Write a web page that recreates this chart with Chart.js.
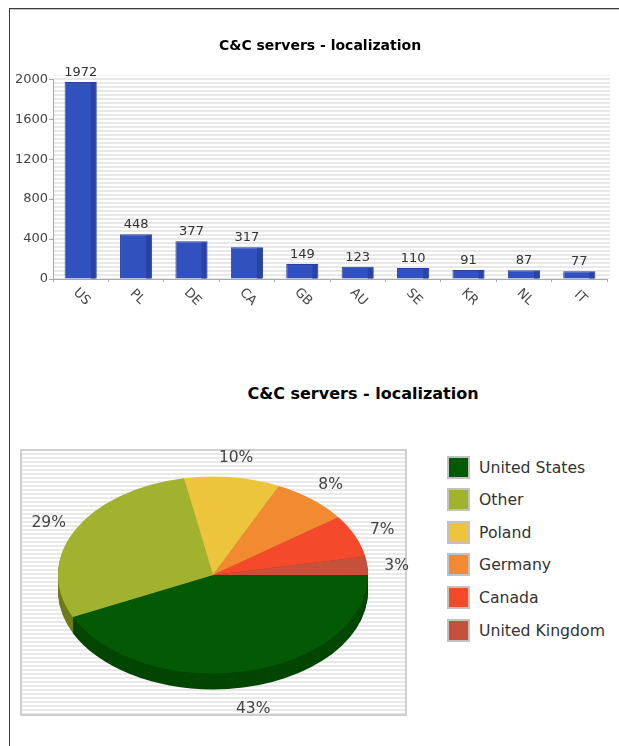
<!DOCTYPE html>
<html>
<head>
<meta charset="utf-8">
<script src="https://cdn.jsdelivr.net/npm/chart.js@4.4.1/dist/chart.umd.min.js"></script>
<style>
html, body { margin:0; padding:0; width:619px; height:746px; overflow:hidden; background:#fff; font-family:'DejaVu Sans', sans-serif; }
#frame { position:absolute; left:9px; top:8px; width:640px; height:760px; border-top:1px solid #3c3c3c; border-left:1px solid #3c3c3c; box-shadow: inset 0 1px 0 #c8c8c8; }
#barC { position:absolute; left:10px; top:20px; }
#pieBox { position:absolute; left:20px; top:449px; width:383px; height:263px; border:2px solid #cfcfcf;
  background: repeating-linear-gradient(to bottom, #fff 0 2px, #e9e9e9 2px 4px); }
#pieC { position:absolute; left:20px; top:420px; }
#pieTitle { position:absolute; left:163px; width:400px; top:384px; line-height:20px; text-align:center; font-weight:bold; font-size:16px; color:#000; }
.item { position:absolute; left:447px; height:23px; }
.sw { position:absolute; left:0; top:0; width:19px; height:19px; border:2px solid #c2c2c2; }
.lt { position:absolute; left:32px; top:0; line-height:23px; font-size:15.7px; color:#333; white-space:nowrap; }
</style>
</head>
<body>
<div id="frame"></div>
<canvas id="barC" width="620" height="300"></canvas>
<div id="pieTitle">C&amp;C servers - localization</div>
<div id="pieBox"></div>
<canvas id="pieC" width="400" height="326"></canvas>
<div id="legend"></div>
<script>
// bar chart data
const barLabels = ['US', 'PL', 'DE', 'CA', 'GB', 'AU', 'SE', 'KR', 'NL', 'IT'];
const barValues = [1972, 448, 377, 317, 149, 123, 110, 91, 87, 77];
const yTicks = [0, 400, 800, 1200, 1600, 2000];

// pie chart data
const pieLabels = ['United States', 'Other', 'Poland', 'Germany', 'Canada', 'United Kingdom'];
const piePercent = [43, 29, 10, 8, 7, 3];
const pieColors = ['#045a04', '#a1b22e', '#ecc53c', '#f18a30', '#f44a2b', '#c4523b'];
const pieSideColors = ['#024602', '#6f7c1c', '#b09028', '#b06020', '#b03018', '#8c3828'];

Chart.defaults.font.family = "'DejaVu Sans', sans-serif";

const stripes = document.createElement('canvas');
stripes.width = 1;
stripes.height = 4;
const sg = stripes.getContext('2d');
sg.fillStyle = '#ffffff';
sg.fillRect(0, 0, 1, 4);
sg.fillStyle = '#e8e8e8';
sg.fillRect(0, 2, 1, 2);

const plotBack = {
    id: 'plotBack',
    beforeDraw(chart) {
        const a = chart.chartArea, ctx = chart.ctx;
        ctx.save();
        ctx.fillStyle = ctx.createPattern(stripes, 'repeat');
        ctx.fillRect(a.left, a.top - 4, a.right - a.left + 3, a.bottom - a.top + 4);
        ctx.restore();
    }
};

const barDecor = {
    id: 'barDecor',
    afterDatasetsDraw(chart) {
        const ctx = chart.ctx;
        ctx.save();
        chart.getDatasetMeta(0).data.forEach((el, i) => {
            const p = el.getProps(['x', 'y', 'base', 'width'], true);
            ctx.fillStyle = '#2a43a2';
            ctx.fillRect(p.x + p.width / 2 - 6, p.y + 1, 5, p.base - p.y - 1);
            ctx.fillStyle = '#333';
            ctx.font = "13px 'DejaVu Sans'";
            ctx.textAlign = 'center';
            ctx.textBaseline = 'bottom';
            ctx.fillText(barValues[i], p.x, p.y - 3);
        });
        ctx.restore();
    },
    afterDraw(chart) {
        const ctx = chart.ctx, xs = chart.scales.x;
        ctx.save();
        ctx.fillStyle = '#444';
        ctx.font = "13px 'DejaVu Sans'";
        ctx.textAlign = 'center';
        ctx.textBaseline = 'middle';
        barLabels.forEach((lab, i) => {
            ctx.save();
            ctx.translate(xs.getPixelForValue(i) + 1, xs.top + 18);
            ctx.rotate(Math.PI / 4);
            ctx.fillText(lab, 0, 0);
            ctx.restore();
        });
        ctx.restore();
    }
};

new Chart(document.getElementById('barC'), {
    type: 'bar',
    data: {
        labels: barLabels,
        datasets: [{
            data: barValues,
            backgroundColor: '#3151bf',
            borderColor: '#27409e',
            borderWidth: 1,
            barPercentage: 0.58,
            categoryPercentage: 1
        }]
    },
    options: {
        responsive: false,
        animation: false,
        events: [],
        plugins: {
            legend: { display: false },
            tooltip: { enabled: false },
            title: {
                display: true,
                text: 'C&C servers - localization',
                color: '#000',
                font: { size: 14, weight: 'bold' },
                padding: { top: 18, bottom: 24.5 }
            }
        },
        scales: {
            x: {
                offset: true,
                ticks: { display: false },
                grid: { drawOnChartArea: false, offset: true, tickLength: 3, color: '#a8a8a8' },
                border: { color: '#a8a8a8' },
                afterFit: s => { s.height = 41; }
            },
            y: {
                min: 0,
                max: 2000,
                afterBuildTicks: s => { s.ticks = yTicks.map(v => ({ value: v })); },
                ticks: { padding: 1, color: '#444', font: { size: 13 }, callback: v => String(v) },
                grid: { drawOnChartArea: false, tickLength: 4, color: '#a8a8a8' },
                border: { color: '#a8a8a8' },
                afterFit: s => { s.width = 43; }
            },
            // empty right-hand spacer so the plot ends before the canvas edge
            // while the title stays centred on the whole width
            spacer: {
                position: 'right',
                ticks: { display: false },
                grid: { display: false },
                border: { display: false },
                afterFit: s => { s.width = 23; }
            }
        }
    },
    plugins: [plotBack, barDecor]
});

// tilted pie with a side wall
const TILT = 0.635, DEPTH = 16;
const tilt = {
    id: 'tilt',
    beforeDatasetsDraw(chart) {
        const ctx = chart.ctx, arcs = chart.getDatasetMeta(0).data;
        const cx = arcs[0].x, cy = arcs[0].y;
        for (let d = DEPTH; d > 0; d--) {
            arcs.forEach((a, i) => {
                ctx.save();
                ctx.translate(cx, cy + d);
                ctx.scale(1, TILT);
                ctx.beginPath();
                ctx.moveTo(0, 0);
                ctx.arc(0, 0, a.outerRadius, a.startAngle, a.endAngle);
                ctx.closePath();
                ctx.fillStyle = pieSideColors[i];
                ctx.fill();
                ctx.restore();
            });
        }
        ctx.save();
        ctx.translate(cx, cy);
        ctx.scale(1, TILT);
        ctx.translate(-cx, -cy);
    },
    afterDatasetsDraw(chart) {
        const ctx = chart.ctx, arcs = chart.getDatasetMeta(0).data;
        ctx.restore();
        const cx = arcs[0].x, cy = arcs[0].y;
        ctx.save();
        ctx.fillStyle = '#444';
        ctx.font = "15.5px 'DejaVu Sans'";
        ctx.textAlign = 'center';
        ctx.textBaseline = 'middle';
        arcs.forEach((a, i) => {
            const m = (a.startAngle + a.endAngle) / 2;
            const s = Math.sin(m);
            const lx = cx + Math.cos(m) * a.outerRadius * 1.19;
            const ly = cy + s * a.outerRadius * TILT * 1.215 + (s > 0 ? s * DEPTH : 0) + 2;
            ctx.fillText(piePercent[i] + '%', lx, ly);
        });
        ctx.restore();
    }
};

new Chart(document.getElementById('pieC'), {
    type: 'pie',
    data: {
        labels: pieLabels,
        datasets: [{ data: piePercent, backgroundColor: pieColors, borderWidth: 0, hoverOffset: 0 }]
    },
    options: {
        responsive: false,
        animation: false,
        events: [],
        rotation: 90,
        layout: { padding: { left: 38, right: 52, top: 0, bottom: 16 } },
        plugins: { legend: { display: false }, tooltip: { enabled: false } }
    },
    plugins: [tilt]
});

// legend
const legend = document.getElementById('legend');
pieLabels.forEach((name, i) => {
    const it = document.createElement('div');
    it.className = 'item';
    it.style.top = (455.5 + i * 32.6) + 'px';
    const sw = document.createElement('div');
    sw.className = 'sw';
    sw.style.background = pieColors[i];
    const lt = document.createElement('div');
    lt.className = 'lt';
    lt.textContent = name;
    it.appendChild(sw);
    it.appendChild(lt);
    legend.appendChild(it);
});
</script>
</body>
</html>
